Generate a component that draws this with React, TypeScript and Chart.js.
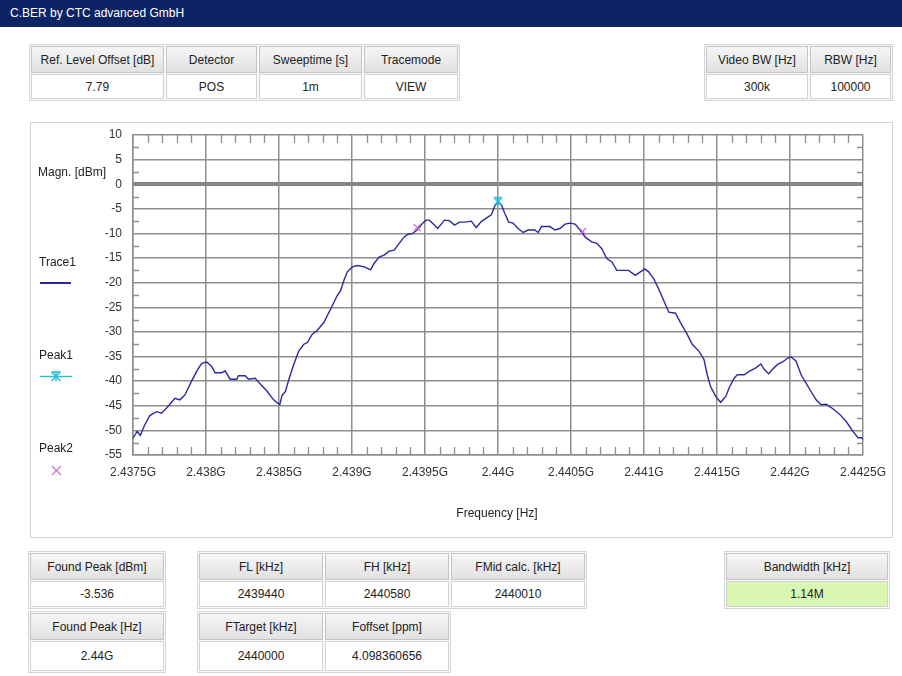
import React, { useEffect, useRef } from 'react';
import { Chart, registerables } from 'chart.js';

Chart.register(...registerables);

// ---------- DATA ----------
const traceFreqMHz = [
  2437.5, 2437.528, 2437.55, 2437.58, 2437.615, 2437.661, 2437.695, 2437.729, 2437.787, 2437.821,
  2437.856, 2437.901, 2437.936, 2437.97, 2438.005, 2438.039, 2438.062, 2438.108, 2438.131, 2438.165,
  2438.211, 2438.222, 2438.268, 2438.291, 2438.337, 2438.372, 2438.417, 2438.463, 2438.505, 2438.521,
  2438.544, 2438.567, 2438.601, 2438.635, 2438.67, 2438.693, 2438.727, 2438.761, 2438.807, 2438.853,
  2438.899, 2438.922, 2438.945, 2438.968, 2439.002, 2439.037, 2439.083, 2439.128, 2439.151, 2439.186,
  2439.22, 2439.255, 2439.289, 2439.323, 2439.358, 2439.381, 2439.415, 2439.45, 2439.484, 2439.507,
  2439.53, 2439.564, 2439.587, 2439.633, 2439.667, 2439.702, 2439.736, 2439.771, 2439.817, 2439.851,
  2439.885, 2439.92, 2439.954, 2439.977, 2440.0,
  2440.023, 2440.046, 2440.073, 2440.103, 2440.138, 2440.172, 2440.206, 2440.252, 2440.275, 2440.298,
  2440.356, 2440.39, 2440.424, 2440.459, 2440.493, 2440.528, 2440.562, 2440.596, 2440.642, 2440.677,
  2440.711, 2440.745, 2440.78, 2440.814, 2440.86, 2440.894, 2440.94, 2440.975, 2441.005, 2441.032,
  2441.067, 2441.101, 2441.135, 2441.17, 2441.216, 2441.25, 2441.296, 2441.33, 2441.376, 2441.411,
  2441.433, 2441.456, 2441.491, 2441.525, 2441.56, 2441.583, 2441.617, 2441.64, 2441.686, 2441.72,
  2441.766, 2441.8, 2441.823, 2441.853, 2441.881, 2441.915, 2441.95, 2441.984, 2442.007, 2442.041,
  2442.076, 2442.11, 2442.144, 2442.179, 2442.213, 2442.248, 2442.294, 2442.339, 2442.385, 2442.431,
  2442.466, 2442.489, 2442.5,
];
const traceLevelDbm = [
  -51.6, -50.2, -51.0, -48.9, -47.0, -46.2, -46.5, -45.5, -43.5, -43.8,
  -42.8, -40.0, -38.0, -36.4, -36.1, -37.0, -38.3, -38.3, -37.9, -39.6,
  -39.6, -38.9, -38.9, -39.6, -39.4, -40.6, -42.0, -43.8, -44.8, -42.9,
  -42.1, -39.7, -36.6, -33.9, -32.5, -32.2, -30.5, -29.7, -28.1, -25.4,
  -22.6, -21.6, -19.5, -17.8, -16.8, -16.5, -16.8, -17.4, -16.1, -14.8,
  -14.4, -13.6, -13.4, -12.0, -10.7, -10.2, -10.0, -9.2, -7.9, -7.3,
  -7.3, -8.3, -9.0, -7.3, -7.4, -8.3, -7.7, -7.7, -7.5, -8.8,
  -7.6, -6.9, -6.2, -4.5, -3.5,
  -4.2, -5.9, -7.7, -7.9, -9.0, -9.8, -9.3, -9.3, -9.8, -8.6,
  -8.6, -9.3, -9.0, -8.1, -7.9, -8.1, -9.3, -10.7, -11.7, -12.0,
  -13.1, -15.1, -15.8, -17.5, -17.5, -17.5, -18.5, -17.8, -17.2, -17.8,
  -19.2, -21.3, -23.6, -26.0, -26.2, -28.1, -30.5, -32.5, -33.9, -35.6,
  -38.7, -41.1, -43.1, -44.3, -43.1, -41.4, -39.4, -38.7, -38.7, -38.0,
  -37.3, -36.5, -37.6, -38.5, -37.6, -36.6, -36.1, -35.3, -35.1, -35.9,
  -38.7, -40.4, -42.1, -43.8, -44.8, -44.7, -45.6, -46.7, -48.2, -50.2,
  -51.5, -51.5, -51.8,
];
const peak1FreqMHz = [2440.0];
const peak1LevelDbm = [-3.536];
const peak2FreqMHz = [2439.447, 2440.58];
const peak2LevelDbm = [-8.8, -9.6];

const xTickValues = [2437.5, 2438, 2438.5, 2439, 2439.5, 2440, 2440.5, 2441, 2441.5, 2442, 2442.5];
const xTickLabels = ['2.4375G', '2.438G', '2.4385G', '2.439G', '2.4395G', '2.44G', '2.4405G', '2.441G', '2.4415G', '2.442G', '2.4425G'];
const yTickValues = [10, 5, 0, -5, -10, -15, -20, -25, -30, -35, -40, -45, -50, -55];
const yMinorTickValues = [7.5, 2.5, -2.5, -7.5, -12.5, -17.5, -22.5, -27.5, -32.5, -37.5, -42.5, -47.5, -52.5];
const xMinorStepMHz = 0.1;

const topLeftParams = [
  { label: 'Ref. Level Offset [dB]', value: '7.79', w: 133 },
  { label: 'Detector', value: 'POS', w: 91 },
  { label: 'Sweeptime [s]', value: '1m', w: 103 },
  { label: 'Tracemode', value: 'VIEW', w: 94 },
];
const topRightParams = [
  { label: 'Video BW [Hz]', value: '300k', w: 102 },
  { label: 'RBW [Hz]', value: '100000', w: 81 },
];
const foundPeakDbm = [{ label: 'Found Peak [dBm]', value: '-3.536', w: 134 }];
const foundPeakHz = [{ label: 'Found Peak [Hz]', value: '2.44G', w: 134 }];
const freqRow1 = [
  { label: 'FL [kHz]', value: '2439440', w: 124 },
  { label: 'FH [kHz]', value: '2440580', w: 124 },
  { label: 'FMid calc. [kHz]', value: '2440010', w: 134 },
];
const freqRow2 = [
  { label: 'FTarget [kHz]', value: '2440000', w: 124 },
  { label: 'Foffset [ppm]', value: '4.098360656', w: 124 },
];
const bandwidthParams = [{ label: 'Bandwidth [kHz]', value: '1.14M', w: 162 }];

// ---------- STYLE ----------
const FONT = "'Liberation Sans', Arial, sans-serif";
const GRID = '#8e8e8e';
const TRACE = '#2a2a9e';
const PEAK1 = '#1fbfe0';
const PEAK2 = '#d070d0';
const CANVAS_LEFT = 31;
const CANVAS_TOP = 123;
const CANVAS_W = 861;
const CANVAS_H = 413;
// desired plot area in page pixels
const PLOT = { left: 133, top: 135, right: 863, bottom: 455 };

function makeHourglass(color: string) {
  const c = document.createElement('canvas');
  c.width = 11;
  c.height = 11;
  const g = c.getContext('2d')!;
  g.strokeStyle = color;
  g.lineWidth = 1.4;
  g.beginPath();
  g.moveTo(1.5, 1.5); g.lineTo(9.5, 1.5);
  g.moveTo(1.5, 1.5); g.lineTo(9.5, 9.5);
  g.moveTo(9.5, 1.5); g.lineTo(1.5, 9.5);
  g.moveTo(5.5, 1.5); g.lineTo(5.5, 9.5);
  g.stroke();
  return c;
}

const minorTicksPlugin = {
  id: 'minorTicks',
  afterDatasetsDraw(chart: any) {
    const { ctx, chartArea, scales } = chart;
    const { left, right, top, bottom } = chartArea;
    const x = scales.x;
    const y = scales.y;
    ctx.save();
    ctx.strokeStyle = GRID;
    ctx.lineWidth = 1.3;
    ctx.beginPath();
    for (let i = 0; i < xTickValues.length - 1; i++) {
      for (let k = 1; k < 5; k++) {
        const px = Math.round(x.getPixelForValue(xTickValues[i] + k * xMinorStepMHz)) + 0.5;
        ctx.moveTo(px, top);
        ctx.lineTo(px, top + 8);
        ctx.moveTo(px, bottom);
        ctx.lineTo(px, bottom - 8);
      }
    }
    for (const v of yMinorTickValues) {
      const py = Math.round(y.getPixelForValue(v)) + 0.5;
      ctx.moveTo(left, py);
      ctx.lineTo(left + 6, py);
      ctx.moveTo(right, py);
      ctx.lineTo(right - 6, py);
    }
    ctx.stroke();
    ctx.restore();
  },
};

function ParamBox({ left, top, cols, valueBg = '#fff', hHead = 27, hVal = 26 }: any) {
  return (
    <div
      style={{
        position: 'absolute', left, top, display: 'flex', gap: 2,
        border: '1px solid #d4d4d4', padding: 1, background: '#fafafa',
      }}
    >
      {cols.map((c: any) => (
        <div key={c.label} style={{ width: c.w, display: 'flex', flexDirection: 'column', gap: 1 }}>
          <div
            style={{
              height: hHead, boxSizing: 'border-box', border: '1px solid #c4c4c4',
              background: 'linear-gradient(#f6f6f6, #e1e1e1)', display: 'flex',
              alignItems: 'center', justifyContent: 'center', fontSize: 12, color: '#222',
              whiteSpace: 'nowrap',
            }}
          >
            {c.label}
          </div>
          <div
            style={{
              height: hVal, boxSizing: 'border-box', border: '1px solid #d2d2d2',
              background: valueBg, display: 'flex', alignItems: 'center',
              justifyContent: 'center', fontSize: 12, color: '#222', whiteSpace: 'nowrap',
            }}
          >
            {c.value}
          </div>
        </div>
      ))}
    </div>
  );
}

export default function App() {
  const canvasRef = useRef<HTMLCanvasElement>(null);

  useEffect(() => {
    const canvas = canvasRef.current!;
    const target = {
      left: PLOT.left - CANVAS_LEFT,
      top: PLOT.top - CANVAS_TOP,
      right: PLOT.right - CANVAS_LEFT,
      bottom: PLOT.bottom - CANVAS_TOP,
    };
    const pad = { left: 0, top: target.top, right: CANVAS_W - target.right, bottom: 0 };
    const fit = { yWidth: target.left, xHeight: CANVAS_H - target.bottom };
    const hidden = 'rgba(0,0,0,0)';
    const chart = new Chart(canvas, {
      type: 'scatter',
      data: {
        datasets: [
          {
            label: 'Peak1',
            data: peak1FreqMHz.map((f, i) => ({ x: f, y: peak1LevelDbm[i] })),
            pointStyle: makeHourglass(PEAK1) as any,
            pointRadius: 5,
            borderColor: PEAK1,
            backgroundColor: PEAK1,
            order: 0,
          },
          {
            label: 'Peak2',
            data: peak2FreqMHz.map((f, i) => ({ x: f, y: peak2LevelDbm[i] })),
            pointStyle: 'crossRot',
            pointRadius: 5,
            borderWidth: 1.3,
            borderColor: PEAK2,
            backgroundColor: PEAK2,
            order: 1,
          },
          {
            label: 'Trace1',
            data: traceFreqMHz.map((f, i) => ({ x: f, y: traceLevelDbm[i] })),
            showLine: true,
            borderColor: TRACE,
            backgroundColor: TRACE,
            borderWidth: 1.4,
            pointRadius: 0,
            tension: 0,
            order: 2,
          } as any,
        ],
      },
      options: {
        animation: false,
        responsive: false,
        layout: { padding: pad },
        plugins: { legend: { display: false }, tooltip: { enabled: false } },
        scales: {
          x: {
            type: 'linear',
            min: 2437.5,
            max: 2442.5,
            afterBuildTicks: (s: any) => { s.ticks = xTickValues.map((v) => ({ value: v })); },
            afterFit: (s: any) => { s.height = fit.xHeight; },
            grid: { color: GRID, lineWidth: 1.5, drawTicks: true, tickLength: 10, tickColor: hidden },
            border: { display: true, color: GRID, width: 1.5 },
            ticks: {
              padding: 0, autoSkip: false, maxRotation: 0, color: '#333',
              font: { family: FONT, size: 12 },
              callback: (_v: any, i: number) => xTickLabels[i],
            },
          },
          y: {
            type: 'linear',
            min: -55,
            max: 10,
            afterBuildTicks: (s: any) => { s.ticks = yTickValues.map((v) => ({ value: v })); },
            afterFit: (s: any) => { s.width = fit.yWidth; },
            grid: {
              color: (c: any) => (c.tick && c.tick.value === 0 ? '#858585' : GRID),
              lineWidth: (c: any) => (c.tick && c.tick.value === 0 ? 4 : 1.5),
              drawTicks: true,
              tickLength: 11,
              tickColor: hidden,
            },
            border: { display: true, color: GRID, width: 1.5 },
            ticks: {
              padding: 0, color: '#333',
              font: { family: FONT, size: 12 },
              callback: (v: any) => String(v),
            },
          },
        },
      },
      plugins: [minorTicksPlugin],
    });
    // correct the layout so the plot area lands exactly where the reference has it
    for (let it = 0; it < 3; it++) {
      const ca = chart.chartArea;
      const dl = target.left - ca.left;
      const dt = target.top - ca.top;
      const dr = ca.right - target.right;
      const db = ca.bottom - target.bottom;
      if (Math.abs(dl) < 0.5 && Math.abs(dt) < 0.5 && Math.abs(dr) < 0.5 && Math.abs(db) < 0.5) break;
      fit.yWidth += dl;
      pad.top += dt;
      pad.right += dr;
      fit.xHeight += db;
      (chart.options as any).layout.padding = { ...pad };
      chart.update();
    }
    return () => chart.destroy();
  }, []);

  const txt = (s: any) => ({ position: 'absolute' as const, fontSize: 12, color: '#222', lineHeight: '14px', whiteSpace: 'nowrap' as const, ...s });

  return (
    <div
      style={{
        position: 'fixed', left: 0, top: 0, width: 902, height: 676, background: '#fff',
        overflow: 'hidden', fontFamily: FONT,
      }}
    >
      {/* title bar */}
      <div
        style={{
          position: 'absolute', left: 0, top: 0, width: 902, height: 27, background: '#0d2464',
          color: '#fff', fontSize: 12, lineHeight: '27px', paddingLeft: 10, boxSizing: 'border-box',
        }}
      >
        C.BER by CTC advanced GmbH
      </div>

      <ParamBox left={29} top={44} cols={topLeftParams} hHead={27} hVal={25} />
      <ParamBox left={704} top={44} cols={topRightParams} hHead={27} hVal={25} />

      {/* chart frame */}
      <div
        style={{
          position: 'absolute', left: 30, top: 122, width: 863, height: 416,
          border: '1px solid #d2d2d2', boxSizing: 'border-box',
        }}
      />
      <canvas
        ref={canvasRef}
        width={CANVAS_W}
        height={CANVAS_H}
        style={{ position: 'absolute', left: CANVAS_LEFT, top: CANVAS_TOP, width: CANVAS_W, height: CANVAS_H }}
      />

      {/* left labels & legend */}
      <div style={txt({ left: 38, top: 165 })}>Magn. [dBm]</div>
      <div style={txt({ left: 39, top: 255 })}>Trace1</div>
      <div style={{ position: 'absolute', left: 40, top: 282, width: 31, height: 2, background: TRACE }} />
      <div style={txt({ left: 39, top: 348 })}>Peak1</div>
      <svg style={{ position: 'absolute', left: 38, top: 370 }} width={36} height={13}>
        <line x1={2} y1={6.5} x2={34} y2={6.5} stroke={PEAK1} strokeWidth={1.4} />
        <path d="M13.5 2 L22.5 2 M13.5 2 L22.5 11 M22.5 2 L13.5 11 M18 2 L18 11" stroke={PEAK1} strokeWidth={1.3} fill="none" />
      </svg>
      <div style={txt({ left: 39, top: 441 })}>Peak2</div>
      <svg style={{ position: 'absolute', left: 50, top: 464 }} width={13} height={13}>
        <path d="M2 2 L11 11 M11 2 L2 11" stroke={PEAK2} strokeWidth={1.3} fill="none" />
      </svg>

      <div style={txt({ left: 397, width: 200, textAlign: 'center', top: 506 })}>Frequency [Hz]</div>

      {/* bottom results */}
      <ParamBox left={28} top={551} cols={foundPeakDbm} />
      <ParamBox left={28} top={611} cols={foundPeakHz} hVal={30} />
      <ParamBox left={197} top={551} cols={freqRow1} />
      <ParamBox left={197} top={611} cols={freqRow2} hVal={30} />
      <ParamBox left={724} top={551} cols={bandwidthParams} valueBg="#d9f6b2" />
    </div>
  );
}
